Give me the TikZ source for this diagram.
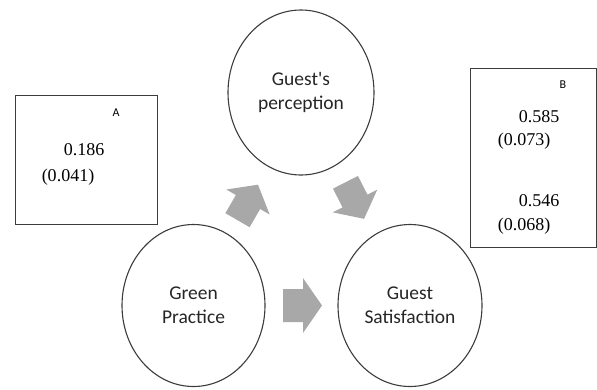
\documentclass[tikz,border=0pt]{standalone}
\usepackage{fontspec}
\setmainfont{Liberation Serif}
\newfontfamily\lblfont{Carlito}
\usetikzlibrary{shapes.geometric}
\definecolor{linegray}{HTML}{3C3C3C}
\definecolor{arrowgray}{HTML}{A8A8A8}
\tikzset{
  concept/.style={draw=linegray, line width=1.1pt, ellipse, inner sep=0pt,
    font=\lblfont\fontsize{19.5}{24}\selectfont, align=center, text=black!85},
  valbox/.style={draw=linegray, line width=1.1pt, inner sep=0pt, anchor=north west},
  boxlabel/.style={font=\lblfont\fontsize{12}{14}\selectfont},
  value/.style={font=\fontsize{18}{20}\selectfont},
  blockarrow/.style={fill=arrowgray, draw=none}
}
\begin{document}
\begin{tikzpicture}[x=1pt, y=-1pt]
\useasboundingbox (0,0) rectangle (597,389);
% ellipses
\node[concept, minimum width=146pt, minimum height=165pt] (perc) at (301,92.5) {Guest's\\perception};
\node[concept, minimum width=143pt, minimum height=162pt] (green) at (193.5,305.5) {Green\\Practice};
\node[concept, minimum width=144pt, minimum height=162pt] (sat) at (410,305.5) {Guest\\Satisfaction};
% box A
\node[valbox, minimum width=142pt, minimum height=129pt] (boxA) at (15,95) {};
\node[boxlabel] (labA) at (116,113) {A};
\node[value] (a1) at (84,150) {0.186};
\node[value] (a2) at (68,177) {(0.041)};
% box B
\node[valbox, minimum width=126pt, minimum height=179pt] (boxB) at (470,68) {};
\node[boxlabel] (labB) at (563,85) {B};
\node[value] (b1) at (539,117) {0.585};
\node[value] (b2) at (524,141) {(0.073)};
\node[value] (b3) at (539,201) {0.546};
\node[value] (b4) at (524,226) {(0.068)};
% block arrows
\fill[blockarrow, shift={(302.5,305.5)}]
  (-19.5,-16.5) -- (0.5,-16.5) -- (0.5,-27.5) -- (19.5,0) -- (0.5,27.5) -- (0.5,16.5) -- (-19.5,16.5) -- cycle;
\fill[blockarrow, shift={(248,202)}, rotate=60]
  (-21,-14) -- (0,-14) -- (0,-25) -- (20,0) -- (0,25) -- (0,14) -- (-21,14) -- cycle;
\fill[blockarrow, shift={(355,201)}, rotate=-63]
  (-21,-14) -- (0,-14) -- (0,-25) -- (20,0) -- (0,25) -- (0,14) -- (-21,14) -- cycle;
\end{tikzpicture}
\end{document}
